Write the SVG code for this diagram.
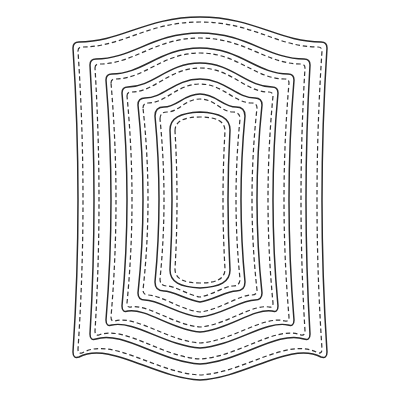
<svg xmlns="http://www.w3.org/2000/svg" width="400" height="400" viewBox="0 0 400 400">
<style>
.cut{fill:none;stroke:#2a2a2a;stroke-width:1.45;stroke-linejoin:round}
.stitch{fill:none;stroke:#333333;stroke-width:1.2;stroke-dasharray:4.5 2.8}
</style>
<rect width="400" height="400" fill="#ffffff"/>
<g id="frame1">
<path class="cut" d="M73,48 Q73,42 79,42 C121,42 146,17 200,17 C254,17 279,42 321,42 Q327,42 327,48 Q317,200 327,352 Q327,359 321,357 C291,341 245,378 200,380 C155,378 109,341 79,357 Q73,359 73,352 Q83,200 73,48 Z"/>
<path class="stitch" d="M78,51 Q78,47 82,47 C123,47 147,22 200,22 C253,22 277,47 318,47 Q322,47 322,51 Q312,200 322,349 Q322,354 318,353 C288,336 244,373 200,375 C156,373 112,336 82,353 Q78,354 78,349 Q88,200 78,51 Z"/>
</g>
<g id="frame2">
<path class="cut" d="M90,65 Q90,59 96,59 C132,59 153,33 200,33 C247,33 268,59 304,59 Q310,59 310,65 Q302,200 310,334 Q310,341 304,339 C278,330 239,362 200,364 C161,362 122,330 96,339 Q90,341 90,334 Q98,200 90,65 Z"/>
<path class="stitch" d="M95,68 Q95,64 99,64 C134,64 155,38 200,38 C245,38 266,64 301,64 Q305,64 305,68 Q297,200 305,331 Q305,336 301,335 C276,325 238,357 200,359 C162,357 124,325 99,335 Q95,336 95,331 Q103,200 95,68 Z"/>
</g>
<g id="frame3">
<path class="cut" d="M106,80 Q106,74 112,74 C143,74 160,48 200,48 C240,48 257,74 288,74 Q294,74 294,80 Q284,200 294,320 Q294,327 288,325 C266,320 233,346 200,348 C167,346 134,320 112,325 Q106,327 106,320 Q116,200 106,80 Z"/>
<path class="stitch" d="M111,83 Q111,79 115,79 C145,79 162,53 200,53 C238,53 255,79 285,79 Q289,79 289,83 Q279,200 289,317 Q289,322 285,321 C264,315 232,341 200,343 C168,341 136,315 115,321 Q111,322 111,317 Q121,200 111,83 Z"/>
</g>
<g id="frame4">
<path class="cut" d="M122,93 Q122,87 128,87 C153,87 168,63 200,63 C232,63 247,87 272,87 Q278,87 278,93 Q268,200 278,306 Q278,313 272,311 C254,308 227,330 200,332 C173,330 146,308 128,311 Q122,313 122,306 Q132,200 122,93 Z"/>
<path class="stitch" d="M127,96 Q127,92 131,92 C155,92 169,68 200,68 C231,68 245,92 269,92 Q273,92 273,96 Q263,200 273,303 Q273,308 269,307 C252,304 226,325 200,327 C174,325 148,304 131,307 Q127,308 127,303 Q137,200 127,96 Z"/>
</g>
<g id="frame5">
<path class="cut" d="M138,105 Q138,98 145,98 C164,98 175,79 200,79 C225,79 236,98 255,98 Q262,98 262,105 Q252,200 262,293 Q262,300 255,300 C241,300 221,315 200,317 C179,315 159,300 145,300 Q138,300 138,293 Q148,200 138,105 Z"/>
<path class="stitch" d="M143,108 Q143,103 148,103 C166,103 177,84 200,84 C223,84 234,103 252,103 Q257,103 257,108 Q247,200 257,290 Q257,295 252,295 C239,295 219,310 200,312 C181,310 161,295 148,295 Q143,295 143,290 Q153,200 143,108 Z"/>
</g>
<g id="frame6">
<path class="cut" d="M155,116 Q155,107 164,107 C177,107 184,94 200,94 C216,94 223,107 236,107 Q245,107 245,116 Q237,200 245,282 Q245,291 236,291 C227,291 213,300 200,302 C187,300 173,291 164,291 Q155,291 155,282 Q163,200 155,116 Z"/>
<path class="stitch" d="M160,119 Q160,112 167,112 C179,112 185,99 200,99 C215,99 221,112 233,112 Q240,112 240,119 Q232,200 240,279 Q240,286 233,286 C225,286 212,295 200,297 C188,295 175,286 167,286 Q160,286 160,279 Q168,200 160,119 Z"/>
</g>
<g id="frame7">
<path class="cut" d="M170,130 C170,118 180,113 200,112 C220,113 230,118 230,130 Q226,200 230,270 C230,282 220,287 200,288 C180,287 170,282 170,270 Q174,200 170,130 Z"/>
<path class="stitch" d="M175,131 C175,121 184,117 200,117 C216,117 225,121 225,131 Q221,200 225,269 C225,279 216,283 200,283 C184,283 175,279 175,269 Q179,200 175,131 Z"/>
</g>
<g id="connectors"></g>
</svg>
